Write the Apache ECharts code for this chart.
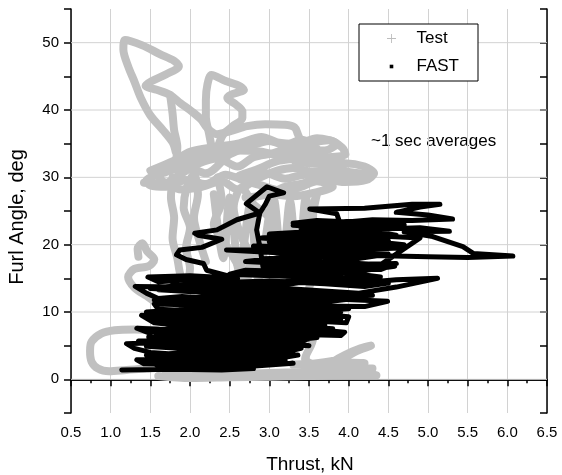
<!DOCTYPE html>
<html>
<head>
<meta charset="utf-8">
<script src="https://cdn.jsdelivr.net/npm/echarts@6/dist/echarts.min.js"></script>
<style>
  html, body { margin: 0; padding: 0; background: #fff; }
  #chart { width: 562px; height: 475px; }
</style>
</head>
<body>
<div id="chart"></div>
<script>
// Axis ranges and tick steps
const thrustRange = [0.5, 6.5];
const thrustStep = 0.5;
const furlRange = [-5, 55];
const furlStep = 5;
const furlGridValues = [0, 10, 20, 30, 40, 50];

// Test: ~1 s averaged measurements, [thrust kN, furl angle deg], one array per trace
const testTopLoop = [
  [1.82,33.8],[1.78,35.2],[1.66,37.0],[1.5,39.2],[1.38,41.8],[1.3,44.2],[1.22,46.5],[1.16,49.0],
  [1.18,50.4],[1.4,49.6],[1.62,48.3],[1.8,47.3],[1.86,46.5],[1.7,45.3],[1.52,44.3],[1.44,43.6],
  [1.58,43.0],[1.74,42.3],[1.88,41.0],[2.02,39.8],[2.14,38.6],[2.22,37.3],[2.34,36.4],[2.52,36.9],
  [2.72,37.6],[2.95,37.9],[3.2,37.8],[3.32,37.4],[3.36,36.4],[3.4,35.2]
];
const testDrop = [[1.75,42.2],[1.78,39.5],[1.8,37.0],[1.84,34.5],[1.82,32.0]];
const testSecondLoop = [
  [2.28,34.0],[2.24,36.5],[2.2,39.0],[2.2,41.5],[2.22,43.8],[2.27,45.2],[2.45,44.3],[2.62,43.6],
  [2.68,43.0],[2.52,42.3],[2.47,41.8],[2.58,40.8],[2.66,39.8],[2.66,38.8],[2.54,37.6],[2.42,36.4],[2.36,34.8]
];
const testUpperCluster = [
  [1.42,29.2],[1.65,29.0],[1.9,30.6],[2.1,32.0],[2.35,32.8],[2.6,31.6],[2.8,33.0],[3.05,33.6],
  [3.3,34.6],[3.55,35.2],[3.75,35.5],[3.92,34.4],[3.96,33.4],[3.72,33.0],[3.5,33.2],[3.3,32.6],
  [3.6,32.0],[3.95,32.1],[4.2,31.6],[4.32,30.6],[4.22,29.6],[3.95,29.3],[3.7,29.8],[3.45,30.4],
  [3.2,29.8],[2.95,30.6],[2.7,29.6],[2.45,30.4],[2.2,29.0],[1.95,29.6],[1.7,28.6],[1.5,28.8],
  [1.45,29.5],[1.7,30.8],[1.95,31.6],[2.2,30.6],[2.5,33.4],[2.75,34.6],[3.0,35.4],[3.2,34.8],
  [3.4,35.6],[3.6,34.2],[3.4,33.0],[3.1,32.4],[2.85,31.2],[2.6,30.0],[2.9,28.8],[3.15,28.0],
  [3.4,28.6],[3.6,29.4],[3.8,28.6],[3.6,27.8],[3.3,27.2],[3.0,27.6]
];
const testUpperCluster2 = [
  [1.5,31.0],[1.8,32.5],[2.0,33.8],[2.3,34.5],[2.6,35.0],[2.9,36.0],[3.1,35.2],[3.35,35.0],
  [3.6,35.8],[3.85,35.0],[3.7,34.0],[3.4,34.0],[3.15,33.2],[2.9,33.8],[2.6,34.0],[2.35,33.6],
  [2.1,33.0],[1.85,31.8],[1.6,30.2],[1.9,28.2],[2.15,28.6],[2.4,29.4],[2.6,28.2],[2.85,29.8],
  [3.1,31.0],[3.3,31.4],[3.55,30.8],[3.8,31.4],[4.0,30.8],[4.25,30.4],[4.0,30.0],[3.7,30.6],
  [3.45,29.2],[3.2,28.6],[2.95,27.4],[2.7,27.0]
];
const testLeftBands = [
  [1.78,30.0],[1.76,27.0],[1.8,24.0],[1.78,21.0],[1.84,18.0],[1.88,15.5],[1.95,14.0],[2.0,16.5],
  [1.95,19.5],[2.0,22.5],[1.92,25.5],[1.96,28.5],[2.05,30.5],[2.1,27.5],[2.05,24.0],[2.12,20.5],[2.2,17.5]
];
const testMidBands = [
  [2.35,30.0],[2.4,26.5],[2.3,23.0],[2.45,20.0],[2.6,17.0],[2.7,14.0],[2.75,18.0],[2.62,22.0],
  [2.55,25.5],[2.65,28.5],[2.8,26.0],[3.0,24.0],[3.1,20.5],[3.2,17.0],[3.3,14.5],[3.4,18.0],
  [3.35,21.5],[3.5,24.5],[3.6,27.5],[3.55,24.0],[3.62,20.5],[3.58,17.0],[3.5,13.5]
];
const testMidBands2 = [
  [2.3,27.5],[2.42,18.0],[2.5,27.0],[2.62,16.0],[2.76,26.0],[2.86,15.0],[3.05,27.0],[3.16,16.0],
  [3.26,26.5],[3.36,15.0],[3.46,27.0],[3.56,17.0]
];
const testCoreEdge = [[3.35,10.5],[3.42,9.0],[3.55,6.0],[3.45,3.0],[3.6,2.0]];
const testLeftHook = [
  [1.62,11.0],[1.45,12.4],[1.3,13.6],[1.22,15.2],[1.3,16.4],[1.48,16.8],[1.55,17.8],[1.46,19.0],
  [1.4,20.2],[1.34,19.4],[1.35,18.2]
];
const testLowLoop = [
  [1.58,7.3],[1.3,7.4],[1.05,7.3],[0.88,6.8],[0.76,5.6],[0.74,4.2],[0.76,2.6],[0.84,1.6],
  [0.98,1.2],[1.2,1.4],[1.45,1.6],[1.62,1.8]
];
const testBaseline = [
  [1.6,0.5],[2.0,0.2],[2.5,0.3],[3.0,0.4],[3.5,0.5],[4.0,0.6],[4.35,0.6],
  [4.2,1.0],[3.8,1.2],[3.2,1.0],[2.4,0.8],[1.7,1.0]
];
const testLowRight = [
  [3.3,2.2],[3.6,2.4],[3.9,3.0],[4.1,4.2],[4.28,5.0],[4.15,4.6],[3.95,3.6],[3.8,2.6],
  [4.2,2.4],[3.6,1.8],[4.3,1.6]
];

// FAST: simulated ~1 s averages, [thrust kN, furl angle deg]
const fastPath = [
  [1.14,1.4],[1.8,1.5],[2.4,1.4],[2.8,1.6],
  [2.4,2.0],[1.9,2.2],[1.42,2.3],
  [1.33,2.9],[1.9,3.0],[2.6,2.7],[3.1,3.1],[3.36,3.6],
  [2.7,3.8],[2.1,3.5],[1.5,4.0],[1.3,4.6],
  [1.2,5.3],[1.7,5.5],[2.3,5.1],[2.9,5.4],[3.5,5.0],
  [3.1,5.9],[2.5,6.1],[1.9,5.9],[1.48,6.3],
  [1.5,6.8],[1.33,7.6],[1.9,7.3],[2.6,7.0],[3.3,6.7],[3.9,6.5],[3.95,7.0],
  [3.4,7.6],[2.8,7.9],[2.1,7.7],[1.55,8.4],
  [1.39,9.5],[1.9,9.2],[2.6,8.7],[3.2,8.9],[3.97,8.4],[4.0,9.3],
  [3.4,9.9],[2.7,9.7],[2.0,10.2],[1.6,10.4],
  [1.55,11.2],[2.2,11.0],[2.9,10.7],[3.6,10.9],[4.2,10.8],[4.49,11.6],
  [3.9,11.9],[3.2,12.1],[2.5,11.8],[1.9,12.3],[1.6,12.0],
  [1.45,12.8],[1.31,13.8],[1.9,13.7],[2.6,13.2],[3.3,13.4],[4.13,12.8],[4.6,13.7],[5.12,15.0],
  [4.6,14.8],[4.0,14.2],[3.4,14.6],[2.7,14.3],[2.0,14.8],[1.6,14.5],
  [1.47,15.2],[2.0,15.4],[2.6,15.0],[2.21,16.2],[2.17,17.2],[1.95,17.8],[1.83,18.5],[1.87,19.2],
  [2.15,19.6],[2.4,20.8],[2.1,21.4],[2.06,21.7],[2.34,22.2],[2.59,23.7],[2.88,24.7],[2.71,26.1],
  [2.97,28.6],[3.18,27.7],[3.0,27.2],[2.95,26.0],[2.88,24.7],[2.84,22.2],[2.88,19.7],[2.92,16.7],
  [3.5,16.3],[4.1,16.0],[4.58,16.8],[4.0,17.3],[3.3,17.6],[2.9,17.9],[3.5,18.1],[4.0,18.5],
  [4.58,18.3],[5.0,18.2],[5.5,18.1],[6.07,18.3],[5.57,18.7],[5.44,19.7],[5.06,21.2],[4.7,21.9],
  [5.27,22.0],[4.9,22.5],[4.3,22.3],[3.7,22.6],[3.3,22.9],[3.9,23.3],[4.3,23.7],[4.8,23.6],
  [5.31,23.8],[5.0,24.4],[4.6,24.8],[4.9,25.6],[5.15,26.0],[4.8,26.0],[4.2,25.4],[3.51,25.3],
  [3.85,24.6],[3.89,23.2],[3.6,22.0],[3.0,21.6],[3.0,20.4],[3.6,20.0],[4.2,20.2],[4.65,19.5],
  [4.0,19.2],[3.3,19.3],[2.46,19.2],[3.1,18.8],[3.8,19.0],[4.3,19.8],[4.5,20.6],[3.9,21.0],
  [3.2,21.2],[3.6,21.6],[4.4,21.3],[4.9,21.0],
  [4.4,17.0],[3.6,16.6],[3.0,16.0],[3.4,15.6],[4.0,15.8],[4.4,15.2],[3.7,14.9],[3.1,13.9],
  [2.4,13.8],[1.8,14.0],[1.6,13.3],[2.2,12.9],[2.9,12.6],[3.6,12.5],[4.2,12.2],[3.7,11.5],
  [3.0,11.4],[2.3,11.5],[1.8,11.6],[1.9,10.8],[2.6,10.3],[3.3,10.4],[3.9,10.0],[3.5,9.4],
  [2.9,9.3],[2.2,9.6],[1.7,9.0],[2.3,8.4],[3.0,8.2],[3.7,8.0],[3.3,7.3],[2.5,7.4],
  [1.8,7.8],[1.6,7.1],[2.2,6.6],[2.9,6.3],[3.5,6.0],[3.3,5.4],[2.6,5.7],[1.9,5.2],
  [1.45,4.9],[2.0,4.5],[2.7,4.3],[3.3,4.2],[2.9,3.4],[2.3,3.2],[1.7,2.6],[2.3,2.4],
  [2.9,2.1],[3.3,2.4],[2.6,1.8],[2.0,1.8],[1.6,2.0],
  [1.5,2.6],[2.2,2.7],[2.8,2.5],[3.2,2.9],[2.5,3.4],[1.8,3.7],[1.45,3.6],[2.0,4.0],
  [2.6,4.0],[3.1,3.8],[3.4,4.6],[2.8,4.8],[2.1,4.9],[1.6,5.0],[1.35,5.7],[2.0,5.7],
  [2.7,5.9],[3.3,5.8],[3.6,6.2],[3.0,6.6],[2.3,6.3],[1.7,6.6],[1.45,7.2],[2.1,7.2],
  [2.8,7.3],[3.5,7.0],[3.8,7.5],[3.2,8.0],[2.5,8.2],[1.8,8.2],[1.5,8.8],[2.1,8.9],
  [2.8,9.0],[3.5,8.6],[3.9,9.0],[3.3,9.6],[2.5,9.4],[1.8,9.7],[1.45,10.0],[2.1,10.5],
  [2.9,10.0],[3.6,10.2],[4.0,10.5],[3.4,11.2],[2.6,11.1],[1.9,11.2],[1.55,11.8],[2.3,12.3],
  [3.0,12.0],[3.8,12.2],[4.3,12.5],[3.6,13.0],[2.9,13.0],[2.1,13.2],[1.5,13.5],[2.2,14.3],
  [3.0,14.6],[3.7,14.2],[4.2,13.8],[4.5,14.3],[3.9,15.0],[3.2,15.3],[2.5,15.6],[2.7,16.2],
  [3.3,16.0],[3.9,16.4],[4.4,16.3],[4.6,17.2],[3.8,17.0],[3.2,17.2],[2.7,17.5],[3.4,18.4],
  [4.1,17.9],[4.5,18.6],[3.7,18.6],[3.0,19.0],[2.8,19.8],[3.5,19.6],[4.1,19.6],[4.7,20.0],
  [4.2,20.6],[3.5,20.5],[2.9,21.0],[3.4,21.5],[4.0,21.5],[4.6,21.4],[4.3,22.0],[3.8,22.2],
  [3.4,22.4],[3.9,22.8],[4.4,22.9],[4.7,23.0],[4.2,23.3],[3.6,23.6],[3.3,23.2]
];

const testTraces = [
  testTopLoop, testDrop, testSecondLoop, testUpperCluster, testUpperCluster2, testLeftBands,
  testMidBands, testMidBands2, testCoreEdge, testLeftHook, testLowLoop, testBaseline, testLowRight
];

const FONT = 'Arial, "Liberation Sans", sans-serif';
const TEST_COLOR = '#c0c0c0';
const GRID_COLOR = '#d2d2d2';

const chart = echarts.init(document.getElementById('chart'), null, { renderer: 'canvas' });

// Horizontal grid lines at every labelled furl angle, kept under the data
const gridSeries = furlGridValues.map(v => ({
  type: 'line',
  name: 'grid' + v,
  data: [[thrustRange[0], v], [thrustRange[1], v]],
  symbol: 'none',
  silent: true,
  lineStyle: { color: GRID_COLOR, width: 1 },
  z: 0
}));

const testSeries = testTraces.map(trace => ({
  type: 'line',
  name: 'Test',
  data: trace,
  symbol: 'none',
  smooth: 0.3,
  lineStyle: { color: TEST_COLOR, width: 8, cap: 'round', join: 'round' },
  itemStyle: { color: TEST_COLOR },
  z: 2
}));

const fastSeries = {
  type: 'line',
  name: 'FAST',
  data: fastPath,
  symbol: 'none',
  lineStyle: { color: '#000', width: 5, cap: 'round', join: 'round' },
  itemStyle: { color: '#000' },
  z: 3
};

const axisLineStyle = { color: '#000', width: 1.5 };

chart.setOption({
  animation: false,
  backgroundColor: '#fff',
  textStyle: { fontFamily: FONT },
  grid: { left: 71, top: 9, right: 15, bottom: 62, containLabel: false },
  legend: {
    orient: 'vertical',
    left: 359,
    top: 24,
    padding: [6, 19, 6, 28],
    itemGap: 11,
    itemWidth: 40,
    itemHeight: 9,
    borderColor: '#000',
    borderWidth: 1,
    backgroundColor: '#fff',
    textStyle: { fontFamily: FONT, fontSize: 17, color: '#000', lineHeight: 16 },
    data: [
      { name: 'Test', icon: 'path://M4.5,0h1v10h-1z M0,4.5h10v1h-10z', itemStyle: { color: '#bdbdbd', borderWidth: 0 } },
      { name: 'FAST', icon: 'path://M0,0 M10,10 M3,3h4v4h-4z', itemStyle: { color: '#000', borderWidth: 0 } }
    ]
  },
  xAxis: [
    {
      type: 'value', position: 'bottom',
      min: thrustRange[0], max: thrustRange[1], interval: thrustStep,
      axisLine: { lineStyle: axisLineStyle },
      axisTick: { inside: false, length: 7, lineStyle: { color: '#000', width: 1.5 } },
      minorTick: { show: true, splitNumber: 2, length: 4, lineStyle: { color: '#000', width: 1.5 } },
      axisLabel: { margin: 12, fontSize: 15, color: '#000', fontFamily: FONT, formatter: v => v.toFixed(1) },
      splitLine: { show: true, lineStyle: { color: GRID_COLOR, width: 1 } }
    },
    {
      type: 'value', position: 'top',
      min: thrustRange[0], max: thrustRange[1], interval: thrustStep,
      axisLine: { lineStyle: axisLineStyle },
      axisTick: { inside: true, length: 7, lineStyle: { color: '#000', width: 1.5 } },
      minorTick: { show: true, splitNumber: 2, length: 4, lineStyle: { color: '#000', width: 1.5 } },
      axisLabel: { show: false },
      splitLine: { show: false }
    }
  ],
  yAxis: [
    {
      type: 'value', position: 'left',
      min: furlRange[0], max: furlRange[1], interval: furlStep,
      axisLine: { lineStyle: axisLineStyle },
      axisTick: { inside: false, length: 7, lineStyle: { color: '#000', width: 1.5 } },
      axisLabel: {
        margin: 12, fontSize: 15, color: '#000', fontFamily: FONT,
        formatter: v => (furlGridValues.indexOf(v) >= 0 ? String(v) : '')
      },
      splitLine: { show: false }
    },
    {
      type: 'value', position: 'right',
      min: furlRange[0], max: furlRange[1], interval: furlStep,
      axisLine: { lineStyle: axisLineStyle },
      axisTick: { inside: true, length: 7, lineStyle: { color: '#000', width: 1.5 } },
      axisLabel: { show: false },
      splitLine: { show: false }
    }
  ],
  graphic: [
    {
      type: 'text', left: 371, top: 133,
      style: { text: '~1 sec averages', fontSize: 17, fontFamily: FONT, fill: '#000' }
    },
    {
      type: 'text', x: 310, y: 465,
      style: { text: 'Thrust, kN', fontSize: 19, fontFamily: FONT, fill: '#000', align: 'center', verticalAlign: 'middle' }
    },
    {
      type: 'text', x: 17, y: 217, rotation: Math.PI / 2,
      style: { text: 'Furl Angle, deg', fontSize: 20, fontFamily: FONT, fill: '#000', align: 'center', verticalAlign: 'middle' }
    }
  ],
  series: gridSeries.concat(testSeries, [fastSeries])
});
</script>
</body>
</html>
